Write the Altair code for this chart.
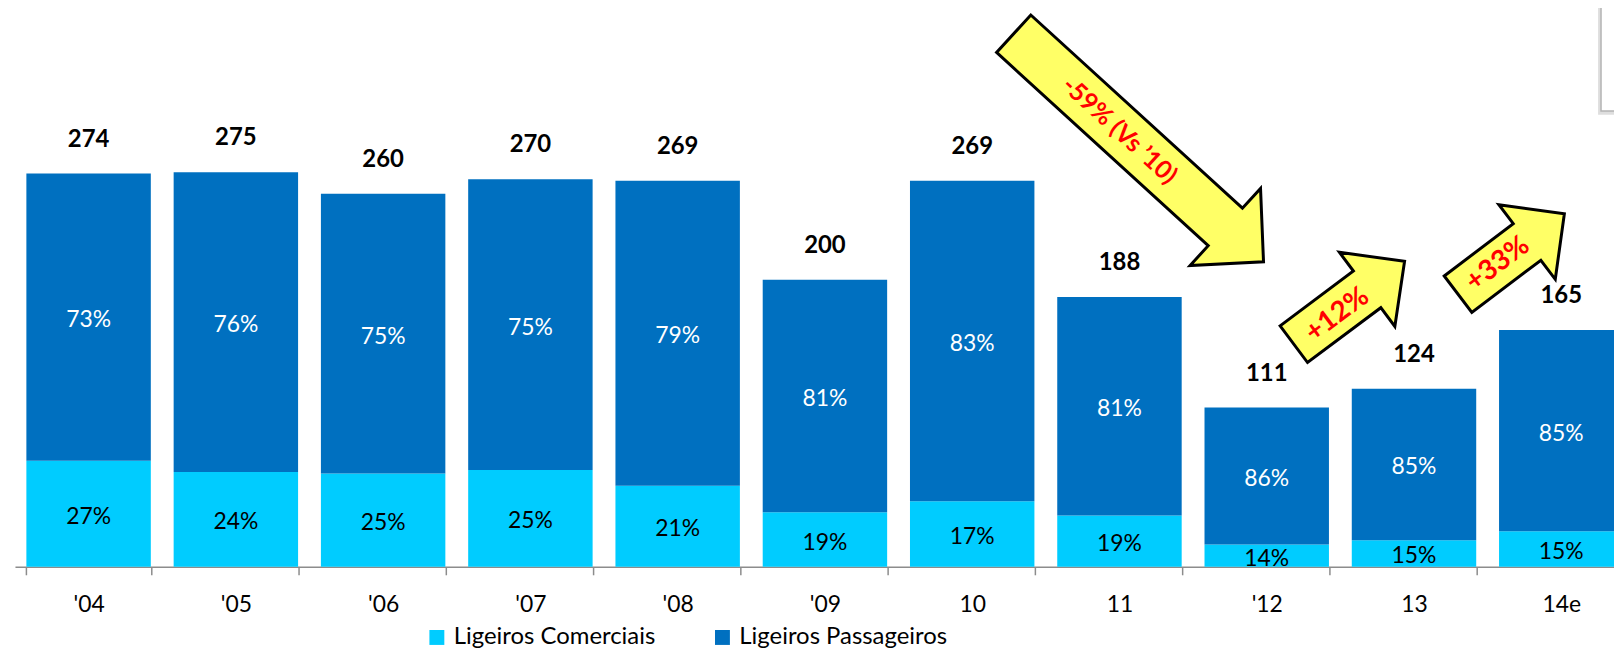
import altair as alt
import pandas as pd

# ---------------- data ----------------
years = ["'04", "'05", "'06", "'07", "'08", "'09", "10", "11", "'12", "13", "14e"]
totals = [274, 275, 260, 270, 269, 200, 269, 188, 111, 124, 165]
pct_comerciais = [27, 24, 25, 25, 21, 19, 17, 19, 14, 15, 15]
pct_passageiros = [73, 76, 75, 75, 79, 81, 83, 81, 86, 85, 85]
series = ["Ligeiros Comerciais", "Ligeiros Passageiros"]

# annotations, x in category slots (slot i spans i..i+1), y in chart units
arrow_labels = ["-59% (Vs \u201910)", "+12%", "+33%"]
arrow_slot = [7.63, 9.06, 10.16]
arrow_level = [292, 184, 218]
arrow_text_slot = [7.50, 8.98, 10.07]
arrow_text_level = [304, 175.5, 211]

# ---------------- styles ----------------
FONT = "Lato"
C_LIGHT, C_DARK = "#00CCFF", "#0070C0"
N = len(years)
STEP = 148
arrow_style = [
    dict(L=340, shaft=51, headw=105, headl=52, angle=42.4, fs=25),
    dict(L=139, shaft=46, headw=93, headl=47, angle=323.2, fs=28),
    dict(L=134, shaft=46, headw=94, headl=47, angle=322.9, fs=28),
]


def arrow_path(s):
    u = s["L"] / 2
    h = s["shaft"] / 2 / u
    H = s["headw"] / 2 / u
    xb = 1 - s["headl"] / u
    return (f"M -1 {-h:.4f} L {xb:.4f} {-h:.4f} L {xb:.4f} {-H:.4f} L 1 0 "
            f"L {xb:.4f} {H:.4f} L {xb:.4f} {h:.4f} L -1 {h:.4f} Z")


rows = []
for yr, tot, pc, pp in zip(years, totals, pct_comerciais, pct_passageiros):
    c = tot * pc / 100
    rows.append(dict(year=yr, series=series[0], lo=0, hi=c, pct=f"{pc}%"))
    rows.append(dict(year=yr, series=series[1], lo=c, hi=tot, pct=f"{pp}%"))
df = pd.DataFrame(rows)
df["mid"] = (df["lo"] + df["hi"]) / 2
df["order"] = df["series"].map({series[0]: 0, series[1]: 1})
tot_df = pd.DataFrame(dict(year=years, total=totals))

x_scale = alt.Scale(domain=years, range=[0, N * STEP], paddingInner=0.155, paddingOuter=0.0775)
x_enc = alt.X(
    "year:N",
    sort=years,
    scale=x_scale,
    axis=alt.Axis(
        title=None, labelAngle=0, labelFont=FONT, labelFontSize=23, labelColor="black",
        tickBand="extent", tickSize=8, tickColor="#8c8c8c", tickWidth=1.5,
        domainColor="#8c8c8c", domainWidth=1.5, labelPadding=19, grid=False,
    ),
)
x_plain = alt.X("year:N", sort=years, scale=x_scale)
y_scale = alt.Scale(domain=[0, 388.3], nice=False, zero=True)
slot_scale = alt.Scale(domain=[0, N], range=[0, N * STEP], nice=False, zero=False)

base = alt.Chart(df)

bars = base.mark_bar().encode(
    x=x_enc,
    y=alt.Y("lo:Q", scale=y_scale, axis=None),
    y2="hi:Q",
    color=alt.Color(
        "series:N",
        scale=alt.Scale(domain=series, range=[C_LIGHT, C_DARK]),
        legend=alt.Legend(
            title=None, orient="none", legendX=412, legendY=619, direction="horizontal",
            symbolType="square", symbolSize=225, symbolStrokeWidth=0,
            labelFont=FONT, labelFontSize=24, labelColor="black", labelLimit=600,
            labelOffset=5, columnPadding=55, padding=0,
        ),
    ),
    order="order:Q",
)

pct_light = base.transform_filter(alt.datum.series == series[0]).mark_text(
    font=FONT, fontSize=23, color="black", baseline="middle", dy=3
).encode(x=x_plain, y=alt.Y("mid:Q", scale=y_scale), text="pct:N")

pct_dark = base.transform_filter(alt.datum.series == series[1]).mark_text(
    font=FONT, fontSize=23, color="white", baseline="middle", dy=3
).encode(x=x_plain, y=alt.Y("mid:Q", scale=y_scale), text="pct:N")

tot_text = alt.Chart(tot_df).mark_text(
    font=FONT, fontSize=24, fontWeight="bold", color="black", baseline="alphabetic", dy=-27
).encode(x=x_plain, y=alt.Y("total:Q", scale=y_scale), text="total:Q")

band_layer = alt.layer(bars, pct_light, pct_dark, tot_text)

# partially visible note box at the top right corner (with a soft shadow)
box_df = pd.DataFrame(dict(left=[10.77], right=[11.6], top=[420], bottom=[317.6],
                           sleft=[10.75], sbottom=[315.0]))
note_shadow = alt.Chart(box_df).mark_rect(fill="#dedede").encode(
    x=alt.X("sleft:Q", scale=slot_scale, axis=None),
    x2="right:Q",
    y=alt.Y("top:Q", scale=y_scale),
    y2="sbottom:Q",
)
note_box = alt.Chart(box_df).mark_rect(
    fill="white", stroke="#b4b4b4", strokeWidth=1.5
).encode(
    x=alt.X("left:Q", scale=slot_scale, axis=None),
    x2="right:Q",
    y=alt.Y("top:Q", scale=y_scale),
    y2="bottom:Q",
)

ann_layers = [note_shadow, note_box]
for lab, xs, lvl, txs, tlvl, st in zip(arrow_labels, arrow_slot, arrow_level,
                                       arrow_text_slot, arrow_text_level, arrow_style):
    adf = pd.DataFrame(dict(xs=[xs], level=[lvl], txs=[txs], tlevel=[tlvl], label=[lab]))
    arrow = alt.Chart(adf).mark_point(
        shape=arrow_path(st), size=st["L"] ** 2, angle=st["angle"], filled=True,
        fill="#FFFF66", stroke="black", strokeWidth=3, opacity=1, fillOpacity=1,
    ).encode(
        x=alt.X("xs:Q", scale=slot_scale, axis=None),
        y=alt.Y("level:Q", scale=y_scale),
    )
    txt = alt.Chart(adf).mark_text(
        font=FONT, fontSize=st["fs"], fontWeight="bold", color="#FF0000",
        angle=st["angle"], baseline="middle", align="center",
    ).encode(
        x=alt.X("txs:Q", scale=slot_scale, axis=None),
        y=alt.Y("tlevel:Q", scale=y_scale),
        text="label:N",
    )
    ann_layers += [arrow, txt]

ann_layer = alt.layer(*ann_layers)

chart = alt.layer(band_layer, ann_layer).resolve_scale(x="independent").properties(
    width=1607, height=560,
    autosize=alt.AutoSizeParams(type="none"),
    padding={"left": 7, "top": 0, "right": 0, "bottom": 83},
    background="white",
).configure_view(stroke=None)

chart.save("out.html", embed_options={"renderer": "svg", "actions": False})
